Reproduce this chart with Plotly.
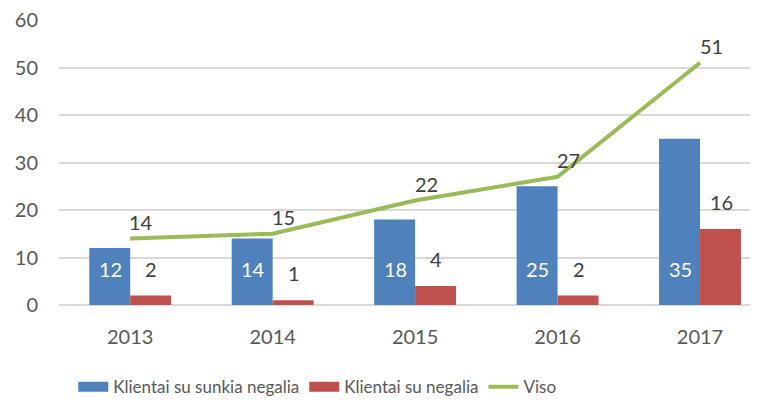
import plotly.graph_objects as go

years = ['2013', '2014', '2015', '2016', '2017']
severe = [12, 14, 18, 25, 35]
disabled = [2, 1, 4, 2, 16]
total = [14, 15, 22, 27, 51]

font_family = "Lato, Open Sans, sans-serif"
label_color = '#404040'
tick_color = '#595959'
blue, red, green = '#4F81BD', '#C0504D', '#9BBB59'

fig = go.Figure()

fig.add_trace(go.Bar(
    x=years, y=severe, name='Klientai su sunkia negalia',
    marker=dict(color=blue, line=dict(width=0)),
    showlegend=False, hoverinfo='x+y'
))
fig.add_trace(go.Bar(
    x=years, y=disabled, name='Klientai su negalia',
    marker=dict(color=red, line=dict(width=0)),
    showlegend=False, hoverinfo='x+y'
))
fig.add_trace(go.Scatter(
    x=years, y=total, name='Viso', mode='lines',
    line=dict(color=green, width=4),
    showlegend=False, hoverinfo='x+y'
))

# legend entries with wide flat swatches, like the original
for name, color, w in [('Klientai su sunkia negalia', blue, 14),
                       ('Klientai su negalia', red, 14),
                       ('Viso', green, 4)]:
    fig.add_trace(go.Scatter(x=[None], y=[None], mode='lines', name=name,
                             line=dict(color=color, width=w), hoverinfo='skip'))

annotations = []
# labels inside blue bars, near the base
for i, v in enumerate(severe):
    annotations.append(dict(x=i, y=0, text=str(v), showarrow=False, xshift=-20,
                            yshift=36, font=dict(color='white', size=20, family=font_family)))
# labels above red bars
for i, v in enumerate(disabled):
    annotations.append(dict(x=i, y=v, text=str(v), showarrow=False, xshift=21,
                            yshift=27, font=dict(color=label_color, size=20, family=font_family)))
# labels above line points
for i, v in enumerate(total):
    annotations.append(dict(x=i, y=v, text=str(v), showarrow=False, xshift=11,
                            yshift=17, font=dict(color=label_color, size=20, family=font_family)))

# page body has an 8px margin, so size and margins are trimmed to compensate
fig.update_layout(
    width=750, height=395,
    margin=dict(l=51, r=1, t=12, b=98, autoexpand=False),
    plot_bgcolor='white', paper_bgcolor='white',
    font=dict(family=font_family, size=20, color=tick_color),
    barmode='group', bargap=0.425, bargroupgap=0,
    showlegend=True,
    legend=dict(orientation='h', x=0.37, xanchor='center',
                yref='container', y=0.04, yanchor='middle',
                font=dict(size=17, color=tick_color),
                traceorder='normal'),
    xaxis=dict(type='category', range=[-0.5, 4.4], showgrid=False, ticks='', showline=False,
               automargin=False, ticklabelstandoff=18,
               tickfont=dict(size=20, color=tick_color)),
    yaxis=dict(range=[0, 60], dtick=10, showgrid=True, gridcolor='#D9D9D9', gridwidth=1.5,
               zeroline=True, zerolinecolor='#D9D9D9', zerolinewidth=1.5, automargin=False,
               ticks='', ticklabelstandoff=20, ticklabeloverflow='allow',
               tickfont=dict(size=20, color=tick_color)),
    annotations=annotations
)

fig.write_html("out.html")
